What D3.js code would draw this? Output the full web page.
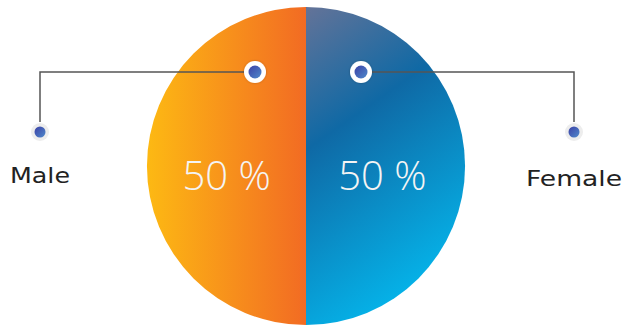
<!DOCTYPE html>
<html>
<head>
<meta charset="utf-8">
<script src="https://cdnjs.cloudflare.com/ajax/libs/d3/7.8.5/d3.min.js"></script>
<style>
  html, body { margin: 0; padding: 0; background: #fff; }
  svg { display: block; }
</style>
</head>
<body>
<svg id="chart" width="623" height="326"></svg>
<script>
// Gender split
const categories = ["Male", "Female"];
const values = [50, 50];
const valueLabels = ["50 %", "50 %"];

const W = 623, H = 326;
const cx = 306, cy = 166, R = 159;

const svg = d3.select("#chart");
const defs = svg.append("defs");

// Warm gradient for the male half, cool gradient for the female half
const gMale = defs.append("linearGradient").attr("id", "gMale")
  .attr("x1", "0%").attr("y1", "0%").attr("x2", "100%").attr("y2", "0%");
gMale.append("stop").attr("offset", "0%").attr("stop-color", "#FDB913");
gMale.append("stop").attr("offset", "100%").attr("stop-color", "#F26B23");

const gFemale = defs.append("linearGradient").attr("id", "gFemale")
  .attr("x1", "0%").attr("y1", "0%").attr("x2", "35%").attr("y2", "100%");
gFemale.append("stop").attr("offset", "0%").attr("stop-color", "#647398");
gFemale.append("stop").attr("offset", "40%").attr("stop-color", "#0F69A5");
gFemale.append("stop").attr("offset", "100%").attr("stop-color", "#05B2E8");

const gDot = defs.append("linearGradient").attr("id", "gDot")
  .attr("x1", "0%").attr("y1", "0%").attr("x2", "100%").attr("y2", "100%");
gDot.append("stop").attr("offset", "0%").attr("stop-color", "#3B40A6");
gDot.append("stop").attr("offset", "100%").attr("stop-color", "#4F8ACB");

const shadow = defs.append("filter").attr("id", "soft")
  .attr("x", "-50%").attr("y", "-50%").attr("width", "200%").attr("height", "200%");
shadow.append("feDropShadow").attr("dx", 0).attr("dy", 0)
  .attr("stdDeviation", 1.2).attr("flood-color", "#000").attr("flood-opacity", 0.25);

const pie = d3.pie().sort(null).startAngle(Math.PI).endAngle(3 * Math.PI);
const arcs = pie(values);
const arc = d3.arc().innerRadius(0).outerRadius(R);
const fills = ["url(#gMale)", "url(#gFemale)"];

const g = svg.append("g").attr("transform", `translate(${cx},${cy})`);
g.selectAll("path.slice").data(arcs).join("path")
  .attr("class", "slice")
  .attr("d", arc)
  .attr("fill", (d, i) => fills[i]);

// Value labels at the centre of each half
const labelArc = d3.arc().innerRadius(R * 0.49).outerRadius(R * 0.49);
g.selectAll("text.val").data(arcs).join("text")
  .attr("class", "val")
  .attr("x", d => labelArc.centroid(d)[0] - 1.5)
  .attr("y", 24)
  .attr("text-anchor", "middle")
  .attr("font-family", "'Open Sans', sans-serif")
  .attr("font-weight", 300)
  .attr("font-size", 40)
  .attr("fill", "#F4F4F4")
  .text((d, i) => valueLabels[i]);

// Leader lines from markers on each half to the legend dots
const leaders = [
  { marker: [255, 72], corner: [40, 72], end: [40, 122], dot: [40, 132], label: [10, 183], width: 60 },
  { marker: [361, 72], corner: [574, 72], end: [574, 122], dot: [574, 132], label: [526, 186], width: 96 }
];

leaders.forEach((l, i) => {
  svg.append("path")
    .attr("d", d3.line()([l.marker, l.corner, l.end]))
    .attr("fill", "none")
    .attr("stroke", "#555")
    .attr("stroke-width", 1.5);

  // marker on the slice
  svg.append("circle").attr("cx", l.marker[0]).attr("cy", l.marker[1]).attr("r", 11)
    .attr("fill", "#fff").attr("filter", "url(#soft)");
  svg.append("circle").attr("cx", l.marker[0]).attr("cy", l.marker[1]).attr("r", 6.5)
    .attr("fill", "url(#gDot)");

  // legend dot
  svg.append("circle").attr("cx", l.dot[0]).attr("cy", l.dot[1]).attr("r", 9)
    .attr("fill", "#EDEDED");
  svg.append("circle").attr("cx", l.dot[0]).attr("cy", l.dot[1]).attr("r", 5.5)
    .attr("fill", "url(#gDot)");

  svg.append("text")
    .attr("x", l.label[0]).attr("y", l.label[1])
    .attr("text-anchor", "start")
    .attr("font-family", "'DejaVu Sans', sans-serif")
    .attr("font-size", 22)
    .attr("textLength", l.width)
    .attr("lengthAdjust", "spacingAndGlyphs")
    .attr("fill", "#222")
    .text(categories[i]);
});
</script>
</body>
</html>
